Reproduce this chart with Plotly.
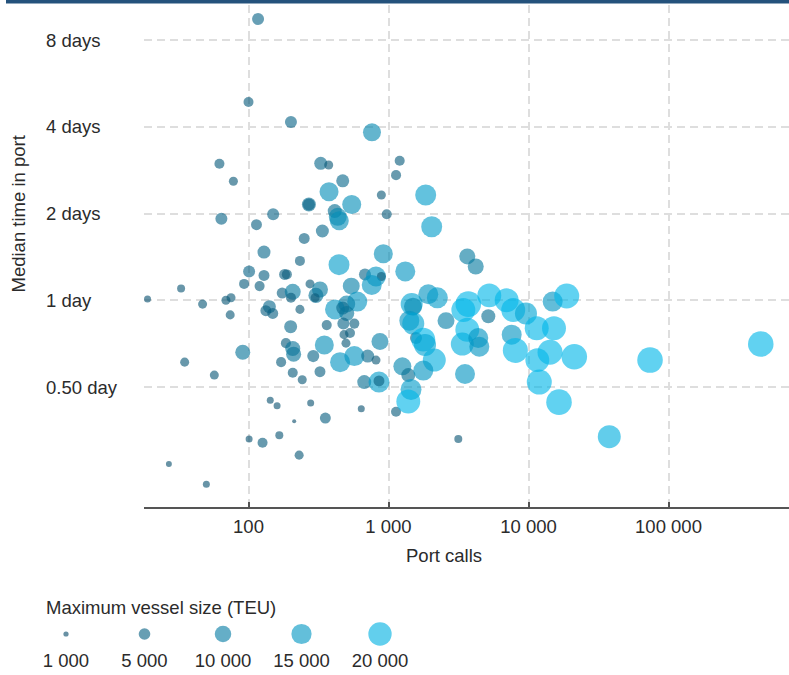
import numpy as np
import plotly.graph_objects as go

# ---------------- data ----------------
port_calls = [117, 100, 201, 62, 78, 64, 114, 150, 129, 233, 101, 129, 181, 188, 93, 120,
              33, 19, 47, 69, 75, 74, 174, 207, 201, 233, 141, 133, 149, 200, 185, 207,
              210, 91, 35, 57, 171, 207, 242, 143, 160, 212, 166, 101, 126, 230, 27, 50,
              762, 328, 374, 1202, 1132, 471, 376, 270, 270, 546, 889, 971, 413, 434, 445,
              337, 250, 1844, 2035, 918, 443, 679, 814, 889, 759, 1318, 275, 324, 303, 299,
              542, 598, 503, 415, 471, 503, 362, 476, 570, 531, 481, 497, 348, 869, 290,
              451, 570, 710, 814, 324, 671, 855, 855, 278, 639, 354, 1132, 3152, 3655,
              4198, 1464, 1496, 1924, 2233, 2575, 1408, 1503, 1572, 1773, 1823, 2124, 1256,
              1385, 1773, 1448, 1385, 3520, 3715, 3423, 3655, 3366, 4378, 4454, 5164, 5248,
              6984, 7780, 7586, 8054, 9594, 11450, 11560, 11940, 14250, 15210, 14880, 18750,
              16520, 21240, 37760, 73790, 456000]
median_days = [9.48, 4.88, 4.16, 2.98, 2.59, 1.92, 1.83, 1.99, 1.47, 1.37, 1.26, 1.22, 1.23,
               1.23, 1.14, 1.12, 1.10, 1.01, 0.97, 1.00, 1.02, 0.89, 1.06, 1.07, 1.02, 0.93,
               0.95, 0.92, 0.90, 0.81, 0.71, 0.68, 0.65, 0.66, 0.61, 0.55, 0.61, 0.56, 0.53,
               0.45, 0.43, 0.38, 0.34, 0.33, 0.32, 0.29, 0.27, 0.23,
               3.83, 2.99, 2.95, 3.05, 2.72, 2.60, 2.38, 2.15, 2.15, 2.15, 2.32, 1.99, 2.04,
               1.95, 1.89, 1.74, 1.64, 2.32, 1.80, 1.45, 1.33, 1.23, 1.21, 1.21, 1.13, 1.26,
               1.14, 1.09, 1.04, 1.02, 1.12, 0.99, 0.97, 0.93, 0.94, 0.90, 0.82, 0.83, 0.83,
               0.77, 0.76, 0.71, 0.70, 0.72, 0.64, 0.61, 0.64, 0.64, 0.62, 0.565, 0.52, 0.52,
               0.525, 0.44, 0.42, 0.39, 0.41, 0.33, 1.42, 1.31, 0.97, 0.95, 1.05, 1.02, 0.85,
               0.85, 0.83, 0.74, 0.73, 0.70, 0.62, 0.59, 0.55, 0.57, 0.49, 0.445, 0.555, 0.97,
               0.925, 0.79, 0.705, 0.74, 0.69, 0.88, 1.04, 1.00, 0.925, 0.76, 0.67, 0.90, 0.80,
               0.62, 0.52, 0.66, 0.80, 0.99, 1.035, 0.443, 0.637, 0.336, 0.62, 0.705]
max_teu = [5300, 3700, 5300, 3700, 3000, 5300, 4400, 5300, 6200, 3700, 5300, 4400, 4400,
           3700, 3700, 3700, 2350, 1800, 3000, 3000, 3000, 3000, 4400, 9400, 3700, 3000,
           6200, 4400, 4400, 6200, 3700, 8300, 8300, 8300, 3000, 3000, 3700, 3700, 3000,
           1800, 1800, 600, 2350, 1800, 3700, 3000, 1300, 1800,
           11900, 6200, 3000, 3700, 3700, 6200, 13300, 7200, 5300, 13300, 3000, 3700, 7200,
           11900, 13300, 6200, 4400, 16200, 16200, 13300, 16200, 5300, 14700, 3000, 14700,
           14700, 3000, 9400, 8300, 3000, 10600, 14700, 10600, 14700, 6200, 8300, 3700, 5300,
           3700, 3700, 3000, 3000, 13300, 10600, 5300, 14700, 14700, 6200, 3000, 4400, 7200,
           16200, 4400, 1800, 1800, 4400, 3700, 2350, 9400, 9400, 17800, 11900, 14700, 16200,
           10600, 14700, 17800, 5300, 21000, 17800, 19400, 11900, 7200, 14700, 16200, 21000,
           14700, 24000, 21000, 21000, 19400, 14700, 14700, 7200, 21000, 21000, 21000, 14700,
           23000, 17800, 21000, 21000, 23000, 23000, 21000, 14700, 23000, 24000, 24000, 19400,
           24000, 24000]

legend_teu = [1000, 5000, 10000, 15000, 20000]
legend_labels = ["1 000", "5 000", "10 000", "15 000", "20 000"]
x_tick_vals = [100, 1000, 10000, 100000]
x_tick_text = ["100", "1 000", "10 000", "100 000"]
y_tick_vals = [0.5, 1, 2, 4, 8]
y_tick_text = ["0.50 day", "1 day", "2 days", "4 days", "8 days"]

# ---------------- styling ----------------
W, H = 789, 675
FONT = "Liberation Sans, Arial, sans-serif"
TXT = "#2b2b2b"
FS = 18.5
SCALE = [[0, "rgb(12,78,108)"], [1, "rgb(0,182,232)"]]
OPAC = 0.62


def bubble_size(teu):
    return 0.165 * np.sqrt(np.asarray(teu, dtype=float))


marker_common = dict(colorscale=SCALE, cmin=1000, cmax=21000, opacity=OPAC, line=dict(width=0))

fig = go.Figure()
fig.add_trace(go.Scatter(
    x=port_calls, y=median_days, mode="markers", showlegend=False,
    marker=dict(size=bubble_size(max_teu), color=max_teu, **marker_common),
    hovertemplate="Port calls: %{x}<br>Median: %{y} days<extra></extra>",
))

# size legend
leg_idx = list(range(len(legend_teu)))
fig.add_trace(go.Scatter(
    x=leg_idx, y=[1] * len(leg_idx), mode="markers", xaxis="x2", yaxis="y2",
    showlegend=False, hoverinfo="skip",
    marker=dict(size=bubble_size(legend_teu), color=legend_teu, **marker_common),
))
fig.add_trace(go.Scatter(
    x=leg_idx, y=[0] * len(leg_idx), mode="text", xaxis="x2", yaxis="y2",
    text=legend_labels, textfont=dict(family=FONT, size=FS, color=TXT),
    showlegend=False, hoverinfo="skip",
))

# plot area in pixels
px_left, px_right, px_top, px_bottom = 144, 789, 5, 507
dec_px = 140.0            # pixels per decade on x
oct_px = 86.7             # pixels per doubling on y
x_lo = 2 - (248.5 - px_left) / dec_px
x_hi = x_lo + (px_right - px_left) / dec_px
y_one = 300.3
y_lo = np.log10(2 ** ((y_one - px_bottom) / oct_px))
y_hi = np.log10(2 ** ((y_one - px_top) / oct_px))

grid = dict(showgrid=True, gridcolor="#dedede", gridwidth=1.5, griddash="8px,5px")

annotations = []
for v, t in zip(y_tick_vals, y_tick_text):
    annotations.append(dict(x=44 / W, xref="paper", y=np.log10(v), yref="y", text=t,
                            xanchor="left", yanchor="middle", showarrow=False,
                            font=dict(family=FONT, size=FS, color=TXT)))
annotations.append(dict(x=18.5 / W, xref="paper", y=(H - 214) / H, yref="paper",
                        text="Median time in port", textangle=-90, showarrow=False,
                        xanchor="center", yanchor="middle",
                        font=dict(family=FONT, size=FS, color=TXT)))
annotations.append(dict(x=443.5 / W, xref="paper", y=(H - 555) / H, yref="paper",
                        text="Port calls", showarrow=False, xanchor="center", yanchor="middle",
                        font=dict(family=FONT, size=FS, color=TXT)))
annotations.append(dict(x=44 / W, xref="paper", y=(H - 607) / H, yref="paper",
                        text="Maximum vessel size (TEU)", showarrow=False,
                        xanchor="left", yanchor="middle",
                        font=dict(family=FONT, size=FS, color=TXT)))

# legend axes geometry
leg_x0, leg_dx = 66.0, 78.5
leg_y1_px, leg_y0_px = 634.0, 662.0
leg_dom_top_px = 575.0
unit = leg_y0_px - leg_y1_px

fig.update_layout(
    width=W, height=H,
    margin=dict(l=0, r=0, t=0, b=0),
    paper_bgcolor="white", plot_bgcolor="white",
    font=dict(family=FONT, size=FS, color=TXT),
    xaxis=dict(type="log", domain=[px_left / W, 1], range=[x_lo, x_hi],
               tickvals=x_tick_vals, ticktext=x_tick_text, ticks="inside", ticklen=5,
               tickwidth=1.5, tickcolor="#555", showline=True, linecolor="#555", linewidth=1.5,
               zeroline=False, anchor="y", ticklabelstandoff=2,
               tickfont=dict(family=FONT, size=FS, color=TXT), **grid),
    yaxis=dict(type="log", domain=[(H - px_bottom) / H, (H - px_top) / H], range=[y_lo, y_hi],
               tickvals=y_tick_vals, showticklabels=False, ticks="", showline=False,
               zeroline=False, anchor="x", **grid),
    xaxis2=dict(domain=[0, 1], range=[-leg_x0 / leg_dx, (W - leg_x0) / leg_dx], visible=False,
                anchor="y2"),
    yaxis2=dict(domain=[0, (H - leg_dom_top_px) / H],
                range=[-(H - leg_y0_px) / unit, 1 + (leg_y1_px - leg_dom_top_px) / unit],
                visible=False, anchor="x2"),
    annotations=annotations,
    shapes=[dict(type="rect", xref="paper", yref="paper", x0=6 / W, x1=1,
                 y0=(H - 3.5) / H, y1=1, fillcolor="#24527c", line=dict(width=0), layer="above")],
)

fig.write_html("out.html", config={"displayModeBar": False},
               post_script="document.body.style.margin='0';")
